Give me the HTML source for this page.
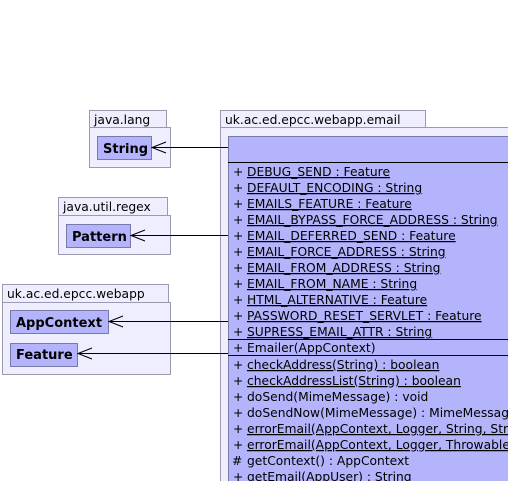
<!DOCTYPE html>
<html><head><meta charset="utf-8"><style>
html,body{margin:0;padding:0;background:#fff;width:508px;height:481px;overflow:hidden}
svg{display:block}
text{font-family:"DejaVu Sans","Liberation Sans",sans-serif;font-size:12.3px;fill:#000}
.b{font-weight:bold;font-size:13px}
.u{text-decoration:underline}
</style></head><body>
<svg width="508" height="481" viewBox="0 0 508 481" xmlns="http://www.w3.org/2000/svg">
<g fill="#eeeeff" stroke="#9a9ab0" stroke-width="1">
<rect x="89.5" y="110.5" width="77" height="17"/>
<rect x="89.5" y="127.5" width="81" height="40"/>
<rect x="58.5" y="197.5" width="109" height="18"/>
<rect x="58.5" y="215.5" width="112" height="39"/>
<rect x="2.5" y="284.5" width="166" height="18"/>
<rect x="2.5" y="302.5" width="168" height="72"/>
<rect x="220.5" y="110.5" width="205" height="17"/>
<rect x="220.5" y="127.5" width="300" height="370"/>
</g>
<text x="94" y="124">java.lang</text>
<text x="63" y="211">java.util.regex</text>
<text x="7" y="298">uk.ac.ed.epcc.webapp</text>
<text x="225" y="124">uk.ac.ed.epcc.webapp.email</text>
<g fill="#b4b4fc" stroke="#7a7aa8" stroke-width="1">
<rect x="97.5" y="136.5" width="54" height="23"/>
<rect x="66.5" y="224.5" width="64" height="23"/>
<rect x="10.5" y="310.5" width="98" height="23"/>
<rect x="10.5" y="343.5" width="67" height="23"/>
<rect x="228.5" y="136.5" width="290" height="360"/>
</g>
<text class="b" x="103" y="153">String</text>
<text class="b" x="72" y="241">Pattern</text>
<text class="b" x="16" y="327">AppContext</text>
<text class="b" x="16" y="359">Feature</text>
<g stroke="#000" stroke-width="1" fill="none">
<line x1="228" y1="147.5" x2="152" y2="147.5"/><polyline points="166,142 152,147.5 166,153"/>
<line x1="228" y1="235.5" x2="131" y2="235.5"/><polyline points="145,230 131,235.5 145,241"/>
<line x1="228" y1="321.5" x2="109" y2="321.5"/><polyline points="123,316 109,321.5 123,327"/>
<line x1="228" y1="353.5" x2="78" y2="353.5"/><polyline points="92,348 78,353.5 92,359"/>
<line x1="228" y1="162.5" x2="508" y2="162.5"/>
<line x1="228" y1="339.5" x2="508" y2="339.5"/>
<line x1="228" y1="355.5" x2="508" y2="355.5"/>
</g>
<text x="233" y="176">+</text><text class="u" x="247" y="176">DEBUG_SEND : Feature</text>
<text x="233" y="192">+</text><text class="u" x="247" y="192">DEFAULT_ENCODING : String</text>
<text x="233" y="208">+</text><text class="u" x="247" y="208">EMAILS_FEATURE : Feature</text>
<text x="233" y="224">+</text><text class="u" x="247" y="224">EMAIL_BYPASS_FORCE_ADDRESS : String</text>
<text x="233" y="240">+</text><text class="u" x="247" y="240">EMAIL_DEFERRED_SEND : Feature</text>
<text x="233" y="256">+</text><text class="u" x="247" y="256">EMAIL_FORCE_ADDRESS : String</text>
<text x="233" y="272">+</text><text class="u" x="247" y="272">EMAIL_FROM_ADDRESS : String</text>
<text x="233" y="288">+</text><text class="u" x="247" y="288">EMAIL_FROM_NAME : String</text>
<text x="233" y="304">+</text><text class="u" x="247" y="304">HTML_ALTERNATIVE : Feature</text>
<text x="233" y="320">+</text><text class="u" x="247" y="320">PASSWORD_RESET_SERVLET : Feature</text>
<text x="233" y="336">+</text><text class="u" x="247" y="336">SUPRESS_EMAIL_ATTR : String</text>
<text x="233" y="352">+</text><text x="247" y="352">Emailer(AppContext)</text>
<text x="233" y="369">+</text><text class="u" x="247" y="369">checkAddress(String) : boolean</text>
<text x="233" y="385">+</text><text class="u" x="247" y="385">checkAddressList(String) : boolean</text>
<text x="233" y="401">+</text><text x="247" y="401">doSend(MimeMessage) : void</text>
<text x="233" y="417">+</text><text x="247" y="417">doSendNow(MimeMessage) : MimeMessage</text>
<text x="233" y="433">+</text><text class="u" x="247" y="433">errorEmail(AppContext, Logger, String, String)</text>
<text x="233" y="449">+</text><text class="u" x="247" y="449">errorEmail(AppContext, Logger, Throwable)</text>
<text x="232" y="465">#</text><text x="247" y="465">getContext() : AppContext</text>
<text x="233" y="481">+</text><text x="247" y="481">getEmail(AppUser) : String</text>
</svg>
</body></html>
